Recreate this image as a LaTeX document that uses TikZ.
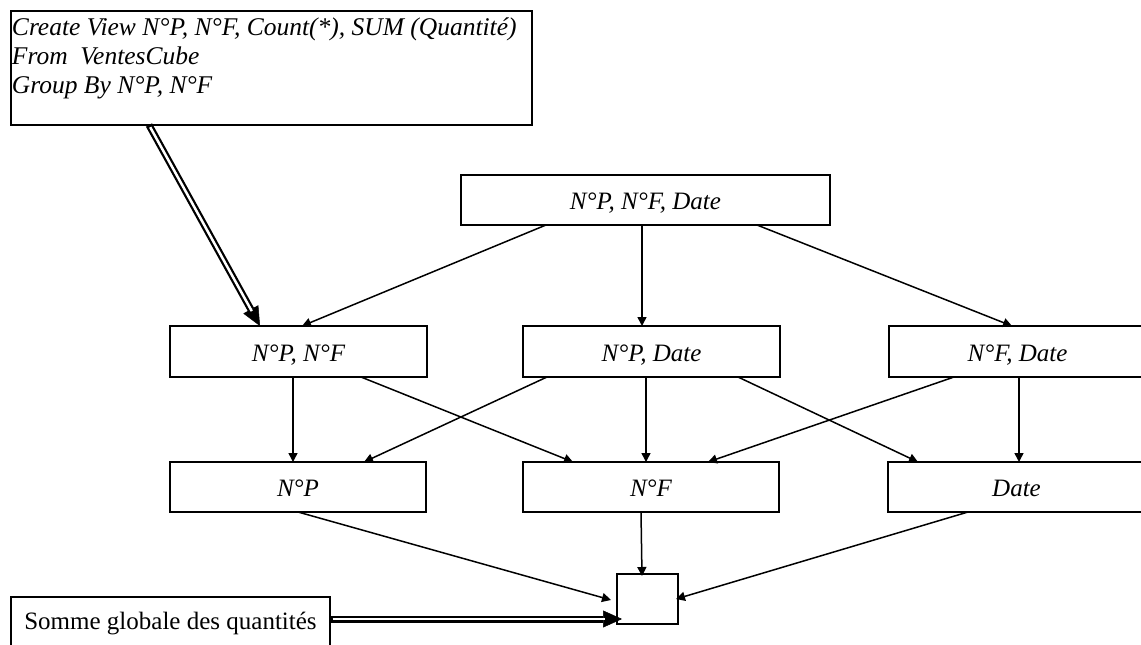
\documentclass[tikz,border=0pt]{standalone}
\usepackage{fontspec}
\setmainfont{Liberation Serif}
\usetikzlibrary{arrows.meta,calc}

\begin{document}
\begin{tikzpicture}[x=1pt,y=-1pt,
  frame/.style={draw, line width=1.8pt, rectangle, inner sep=0pt, outer sep=0pt},
  lbl/.style={frame, font=\fontsize{25}{29}\selectfont\itshape, text height=20pt, text depth=0.5pt},
  lvl/.style={lbl, anchor=north west, minimum width=257pt, minimum height=51pt},
  conn/.style={line width=1.5pt, -{Triangle[length=9pt,width=9pt]}},
  dblouter/.style={line width=7pt, -{Triangle[length=19pt,width=17pt,line width=0.5pt]}},
  dblinner/.style={white, line width=2.5pt, shorten >=17pt, shorten <=2.5pt},
]
\path[use as bounding box, fill=white] (0,0) rectangle (1141,645);

% SQL view definition
\node[frame, anchor=north west, font=\fontsize{25.5}{29}\selectfont\itshape] (cv) at (11,11)
  {\parbox[c][114pt][t]{521pt}{\rule{0pt}{24pt}\hspace*{1pt}Create View N°P, N°F, Count(*), SUM (Quantité)\\
   \hspace*{1pt}From\ \ VentesCube\\
   \hspace*{1pt}Group By N°P, N°F}};

% lattice of aggregation views
\node[lbl, anchor=north west, minimum width=369pt, minimum height=50pt] (top) at (461,175) {N°P, N°F, Date};

\node[lvl] (pf) at (170,326) {N°P, N°F};
\node[lvl] (pd) at (523,326) {N°P, Date};
\node[lvl] (fd) at (889,326) {N°F, Date};

\node[lvl, minimum width=256pt, minimum height=50pt] (p) at (170,462) {N°P};
\node[lvl, minimum width=256pt, minimum height=50pt] (f) at (523,462) {N°F};
\node[lvl, minimum height=50pt] (d) at (888,462) {Date};

\node[frame, anchor=north west, minimum width=61pt, minimum height=50pt] (all) at (617,574) {};

% grand total
\node[frame, anchor=north west, font=\fontsize{25}{29}\selectfont, inner xsep=13pt, inner ysep=14pt,
      text height=18pt, text depth=10pt, minimum width=319pt] (somme) at (11,597) {Somme globale des quantités};

% level 3 -> level 2
\draw[conn] ($(top.south west)+(85,0)$)  -- ($(pf.north west)+(132,0)$);
\draw[conn] ($(top.south west)+(181,0)$) -- ($(pd.north west)+(119,0)$);
\draw[conn] ($(top.south west)+(296,0)$) -- ($(fd.north west)+(123,0)$);

% level 2 -> level 1
\draw[conn] ($(pf.south west)+(123,0)$) -- ($(p.north west)+(123,0)$);
\draw[conn] ($(pf.south west)+(191,0)$) -- ($(f.north west)+(50,0)$);
\draw[conn] ($(pd.south west)+(24,0)$)  -- ($(p.north west)+(194,0)$);
\draw[conn] ($(pd.south west)+(123,0)$) -- ($(f.north west)+(123,0)$);
\draw[conn] ($(pd.south west)+(215,0)$) -- ($(d.north west)+(30,0)$);
\draw[conn] ($(fd.south west)+(65,0)$)  -- ($(f.north west)+(185,0)$);
\draw[conn] ($(fd.south west)+(130,0)$) -- ($(d.north west)+(131,0)$);

% level 1 -> level 0
\draw[conn] ($(p.south west)+(128,0)$) -- ($(all.west)+(-6,1)$);
\draw[conn] ($(f.south west)+(118,0)$) -- ($(all.north west)+(25,2)$);
\draw[conn] ($(d.south west)+(80,0)$)  -- ($(all.east)+(-2,0)$);

% double arrows
\draw[dblouter] ($(cv.south west)+(138,0)$) -- ($(pf.north west)+(90,0)$);
\draw[dblinner] ($(cv.south west)+(138,0)$) -- ($(pf.north west)+(90,0)$);
\draw[dblouter] ($(somme.north east)+(0,22)$) -- ($(all.south west)+(5,-5)$);
\draw[dblinner] ($(somme.north east)+(0,22)$) -- ($(all.south west)+(5,-5)$);
\end{tikzpicture}
\end{document}
